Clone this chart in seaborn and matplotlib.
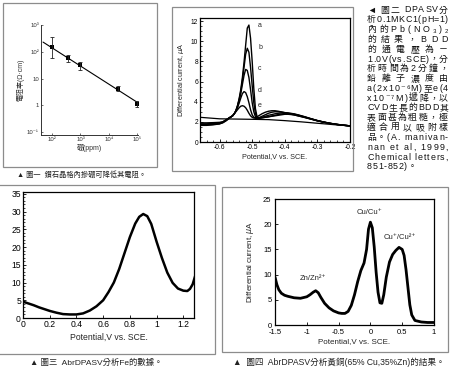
import matplotlib
matplotlib.use("Agg")
import matplotlib.pyplot as plt
import seaborn as sns
from matplotlib.patches import Rectangle
from matplotlib.transforms import IdentityTransform
from matplotlib.ticker import FixedLocator, MultipleLocator, NullLocator, FuncFormatter

# ---------------- data ----------------
# Fig.1: resistivity vs boron content (log-log)
boron_ppm = [100, 370, 1000, 21000, 100000]
resistivity = [154, 60, 33, 4.2, 1.1]
res_low = [60, 42, 21, 3.3, 0.84]
res_high = [355, 77, 42, 5.1, 1.4]
fit_ppm = [48, 100000]
fit_res = [230, 1.3]
fig1_xticks = [1e2, 1e3, 1e4, 1e5]
fig1_xlabels = ["10²", "10³", "10⁴", "10⁵"]
fig1_yticks = [1e-1, 1, 10, 1e2, 1e3]
fig1_ylabels = ["10⁻¹", "1", "10", "10²", "10³"]

# Fig.2: DPASV of Pb, curves a-e
pot2 = [-0.66, -0.64, -0.62, -0.60, -0.59, -0.58, -0.57, -0.56, -0.555, -0.55,
        -0.545, -0.54, -0.535, -0.53, -0.525, -0.52, -0.515, -0.51, -0.505, -0.50,
        -0.495, -0.49, -0.485, -0.48, -0.47, -0.46, -0.45, -0.44, -0.43, -0.42,
        -0.41, -0.40, -0.39, -0.38, -0.37, -0.36, -0.34, -0.32, -0.30, -0.28,
        -0.26, -0.24, -0.22, -0.20]
curve_a = [1.75, 1.75, 1.8, 1.85, 1.95, 2.15, 2.4, 2.6, 2.8, 3.1,
           3.6, 4.3, 5.2, 6.4, 7.9, 9.6, 11.3, 11.6, 10.3, 8.0,
           5.3, 3.3, 2.5, 2.35, 2.4, 2.45, 2.5, 2.55, 2.6, 2.65,
           2.7, 2.75, 2.75, 2.72, 2.68, 2.6, 2.45, 2.28, 2.1, 1.95,
           1.83, 1.73, 1.66, 1.6]
curve_b = [1.8, 1.8, 1.85, 1.9, 2.0, 2.2, 2.4, 2.6, 2.8, 3.1,
           3.6, 4.2, 5.0, 6.1, 7.4, 8.7, 9.3, 8.9, 7.4, 5.6,
           3.9, 2.8, 2.4, 2.35, 2.4, 2.45, 2.5, 2.58, 2.65, 2.72,
           2.78, 2.82, 2.83, 2.8, 2.75, 2.68, 2.5, 2.3, 2.12, 1.97,
           1.84, 1.74, 1.66, 1.6]
curve_c = [1.65, 1.65, 1.7, 1.8, 1.95, 2.15, 2.4, 2.6, 2.8, 3.1,
           3.5, 4.1, 4.8, 5.7, 6.6, 7.2, 7.1, 6.4, 5.2, 3.9,
           3.0, 2.5, 2.35, 2.35, 2.45, 2.55, 2.65, 2.72, 2.8, 2.85,
           2.88, 2.9, 2.88, 2.84, 2.78, 2.7, 2.52, 2.32, 2.13, 1.98,
           1.85, 1.75, 1.67, 1.6]
curve_d = [1.9, 1.9, 1.92, 1.95, 2.0, 2.2, 2.4, 2.6, 2.8, 3.05,
           3.4, 3.85, 4.35, 4.8, 5.0, 4.9, 4.5, 3.9, 3.2, 2.7,
           2.45, 2.35, 2.35, 2.4, 2.55, 2.7, 2.85, 2.95, 3.0, 3.0,
           2.97, 2.92, 2.86, 2.8, 2.73, 2.65, 2.48, 2.3, 2.12, 1.97,
           1.85, 1.75, 1.67, 1.6]
curve_e = [1.7, 1.7, 1.75, 1.8, 1.9, 2.1, 2.35, 2.6, 2.8, 3.0,
           3.2, 3.4, 3.55, 3.6, 3.55, 3.4, 3.15, 2.85, 2.6, 2.45,
           2.38, 2.4, 2.5, 2.6, 2.8, 2.95, 3.05, 3.1, 3.1, 3.05,
           2.98, 2.9, 2.82, 2.75, 2.68, 2.6, 2.44, 2.27, 2.1, 1.96,
           1.84, 1.74, 1.66, 1.6]
blank_pot = [-0.66, -0.60, -0.50, -0.45, -0.40, -0.35, -0.30, -0.25, -0.20]
blank_cur = [2.45, 2.3, 2.25, 2.22, 2.12, 2.0, 1.86, 1.72, 1.6]
curve_names = ["a", "b", "c", "d", "e"]
curve_label_y = [11.6, 9.4, 7.3, 5.1, 3.6]

# Fig.3: AbrDPASV of Fe
pot3 = [0, 0.04, 0.08, 0.12, 0.16, 0.2, 0.25, 0.3, 0.35, 0.4, 0.45, 0.5, 0.55, 0.6,
        0.64, 0.68, 0.72, 0.76, 0.8, 0.84, 0.87, 0.9, 0.93, 0.96, 1.0, 1.04, 1.08,
        1.12, 1.16, 1.2, 1.23, 1.25, 1.27, 1.29]
cur3 = [4.6, 4.1, 3.6, 3.0, 2.5, 2.0, 1.5, 1.1, 1.0, 1.0, 1.3, 2.1, 3.3, 5.0,
        7.3, 10.0, 13.8, 18.3, 22.8, 26.6, 28.5, 29.3, 28.7, 26.5, 21.5, 16.9, 12.8,
        9.9, 8.3, 7.7, 7.6, 8.2, 9.5, 12.0]

# Fig.4: AbrDPASV of brass
pot4 = [-1.5, -1.47, -1.44, -1.4, -1.35, -1.3, -1.2, -1.1, -1.0, -0.95, -0.9, -0.86,
        -0.82, -0.78, -0.72, -0.65, -0.58, -0.5, -0.45, -0.4, -0.35, -0.3, -0.25,
        -0.2, -0.15, -0.1, -0.06, -0.03, 0.0, 0.03, 0.06, 0.09, 0.12, 0.15, 0.18,
        0.21, 0.25, 0.3, 0.35, 0.4, 0.45, 0.5, 0.53, 0.56, 0.59, 0.62, 0.65, 0.7,
        0.8, 0.9, 1.0]
cur4 = [9.5, 8.0, 7.0, 6.3, 5.9, 5.7, 5.4, 5.3, 5.6, 6.0, 6.5, 6.8,
        6.4, 5.5, 4.3, 3.4, 2.8, 2.4, 2.3, 2.3, 2.7, 3.9, 6.0,
        8.6, 10.8, 12.3, 15.0, 19.0, 20.4, 19.3, 15.5, 10.5, 6.5, 4.4, 4.3,
        6.0, 9.5, 12.5, 14.0, 14.8, 15.4, 15.0, 13.8, 11.0, 7.5, 4.0, 2.0, 0.9,
        0.6, 0.5, 0.5]
peak_names = ["Zn/Zn²⁺", "Cu/Cu⁺", "Cu⁺/Cu²⁺"]
peak_pos = [(-0.9, 9.3), (-0.02, 22.3), (0.46, 17.4)]

caption1 = "▲ 圖一  鑽石晶格內摻硼可降低其電阻。"
caption3 = "▲ 圖三  AbrDPASV分析Fe的數據。"
caption4 = "▲  圖四  AbrDPASV分析黃銅(65% Cu,35%Zn)的結果。"
caption2_lines = [
    "◄ 圖二 DPASV分",
    "析0.1MKC1(pH=1)",
    "內的Pb(NO₃)₂",
    "的結果，BDD",
    "的通電壓為－",
    "1.0V(vs.SCE)，分",
    "析時間為2分鐘，",
    "鉛離子濃度由",
    "a(2x10⁻⁶M)至e(4",
    "x10⁻⁷M)遞降，以",
    "CVD生長的BDD其",
    "表面甚為粗糙，極",
    "適合用以吸附樣",
    "品。(A. manivan-",
    "nan et al, 1999,",
    "Chemical letters,",
    "851-852)。",
]
xlab = "Potential,V vs. SCE."
ylab = "Differential current, $\\mu$A"

# ---------------- style ----------------
sns.set_theme(style="ticks")
FAM = ['Liberation Sans', 'Noto Sans CJK TC', 'DejaVu Sans']
plt.rcParams['font.family'] = FAM
plt.rcParams['axes.unicode_minus'] = False
plt.rcParams['mathtext.fontset'] = 'dejavusans'

W, H = 450, 370
fig = plt.figure(figsize=(4.5, 3.7), dpi=100)
fig.patch.set_facecolor('white')


def ax_px(l, t, r, b):
    return fig.add_axes([l / W, 1 - b / H, (r - l) / W, (b - t) / H])


def frame(l, t, r, b):
    fig.add_artist(Rectangle((l / W, 1 - b / H), (r - l) / W, (b - t) / H,
                             transform=fig.transFigure, fill=False,
                             ec='#8c8c8c', lw=0.9))


def style_box(ax, fs):
    for s in ax.spines.values():
        s.set_color('black')
        s.set_linewidth(0.9)
    ax.tick_params(which='both', direction='in', colors='black', labelsize=fs,
                   pad=1.5, top=False, right=False)
    ax.tick_params(which='major', length=2.5, width=0.6)
    ax.tick_params(which='minor', length=1.5, width=0.5)


gfmt = FuncFormatter(lambda v, p: f"{v:g}")

# frames
frame(3, 3, 157, 167)
frame(172, 7, 353, 171)
frame(-2, 185, 215, 354)
frame(222, 187, 448, 352)

# ---------- panel 1 ----------
ax1 = ax_px(41, 25, 138, 135)
ax1.set_xscale('log')
ax1.set_yscale('log')
sns.lineplot(x=fit_ppm, y=fit_res, ax=ax1, color='black', lw=0.8)
yerr = [[r - lo for r, lo in zip(resistivity, res_low)],
        [hi - r for r, hi in zip(resistivity, res_high)]]
ax1.errorbar(boron_ppm, resistivity, yerr=yerr, fmt='none', ecolor='#222',
             elinewidth=0.6, capsize=1.3, capthick=0.6)
sns.scatterplot(x=boron_ppm, y=resistivity, ax=ax1, color='black', s=5,
                marker='s', linewidth=0)
ax1.set_xlim(10 ** 1.61, 10 ** 5.03)
ax1.set_ylim(10 ** -1.11, 10 ** 3)
ax1.spines['top'].set_visible(False)
ax1.spines['right'].set_visible(False)
for s in ['left', 'bottom']:
    ax1.spines[s].set_color('#333')
    ax1.spines[s].set_linewidth(0.7)
ax1.xaxis.set_major_locator(FixedLocator(fig1_xticks))
ax1.set_xticklabels(fig1_xlabels)
ax1.yaxis.set_major_locator(FixedLocator(fig1_yticks))
ax1.set_yticklabels(fig1_ylabels)
ax1.xaxis.set_minor_locator(NullLocator())
ax1.yaxis.set_minor_locator(NullLocator())
ax1.tick_params(direction='in', length=1.5, width=0.5, labelsize=4.3, pad=1.5,
                colors='#333')
ax1.set_xlabel("硼(ppm)", fontsize=5, labelpad=1.5, color='#333')
ax1.set_ylabel("電阻率(Ω·cm)", fontsize=5, labelpad=2, color='#333')

# ---------- panel 2 ----------
ax2 = ax_px(200, 18, 350, 142)
for cur in [curve_a, curve_b, curve_c, curve_d, curve_e]:
    sns.lineplot(x=pot2, y=cur, ax=ax2, color='black', lw=1.0,
                 estimator=None, sort=False)
sns.lineplot(x=blank_pot, y=blank_cur, ax=ax2, color='black', lw=0.9,
             estimator=None, sort=False)
for nm, yy in zip(curve_names, curve_label_y):
    ax2.text(-0.482, yy, nm, fontsize=5, va='center', ha='left')
ax2.set_xlim(-0.66, -0.2)
ax2.set_ylim(0, 12.3)
ax2.xaxis.set_major_locator(FixedLocator([-0.6, -0.5, -0.4, -0.3, -0.2]))
ax2.xaxis.set_minor_locator(MultipleLocator(0.02))
ax2.yaxis.set_major_locator(MultipleLocator(2))
ax2.yaxis.set_minor_locator(MultipleLocator(0.5))
ax2.xaxis.set_major_formatter(gfmt)
ax2.yaxis.set_major_formatter(gfmt)
style_box(ax2, 4.8)
ax2.set_xlabel(xlab, fontsize=5.2, labelpad=1.5)
ax2.set_ylabel(ylab, fontsize=5.2, labelpad=3)

# ---------- panel 3 ----------
ax3 = ax_px(23, 192, 194, 318)
sns.lineplot(x=pot3, y=cur3, ax=ax3, color='black', lw=1.8,
             estimator=None, sort=False)
ax3.set_xlim(0, 1.28)
ax3.set_ylim(0, 35.5)
ax3.xaxis.set_major_locator(MultipleLocator(0.2))
ax3.yaxis.set_major_locator(MultipleLocator(5))
ax3.yaxis.set_minor_locator(MultipleLocator(1))
ax3.xaxis.set_major_formatter(gfmt)
ax3.yaxis.set_major_formatter(gfmt)
style_box(ax3, 6.2)
ax3.set_xlabel(xlab, fontsize=6.2, labelpad=3)

# ---------- panel 4 ----------
ax4 = ax_px(275, 199, 434, 325)
sns.lineplot(x=pot4, y=cur4, ax=ax4, color='black', lw=2.0,
             estimator=None, sort=False)
for nm, (px, py) in zip(peak_names, peak_pos):
    ax4.text(px, py, nm, fontsize=5.5, ha='center', va='center')
ax4.set_xlim(-1.5, 1)
ax4.set_ylim(0, 25)
ax4.xaxis.set_major_locator(MultipleLocator(0.5))
ax4.yaxis.set_major_locator(MultipleLocator(5))
ax4.xaxis.set_major_formatter(gfmt)
ax4.yaxis.set_major_formatter(gfmt)
style_box(ax4, 5.5)
ax4.tick_params(axis='x', pad=2.8)
ax4.tick_params(axis='y', pad=2.5)
ax4.set_xlabel(xlab, fontsize=5.8, labelpad=1.5)
ax4.set_ylabel(ylab, fontsize=5.8, labelpad=5)

# ---------- captions ----------
fig.text(17 / W, 1 - 175 / H, caption1, fontsize=5.2, va='center', color='#222')
fig.text(30 / W, 1 - 363 / H, caption3, fontsize=6.0, va='center', color='#222')
fig.text(233 / W, 1 - 362 / H, caption4, fontsize=6.2, va='center', color='#222')

# justified column text for Fig.2
renderer = fig.canvas.get_renderer()
X0, X1 = 367, 448
FS2 = 6.4
n_lines = len(caption2_lines)
for i, line in enumerate(caption2_lines):
    yd = H - (10 + i * 9.8)
    pieces = []
    for ch in line:
        t = fig.text(0, 0, ch, fontsize=FS2, transform=IdentityTransform(),
                     va='center', ha='left', color='#111')
        w = t.get_window_extent(renderer).width
        if ch == ' ':
            w = FS2 * 100 / 72 * 0.28
        pieces.append((t, w))
    total = sum(w for _, w in pieces)
    if i < n_lines - 1 and len(pieces) > 1:
        gap = max(0.0, (X1 - X0 - total) / (len(pieces) - 1))
    else:
        gap = 0.6
    x = X0
    for t, w in pieces:
        t.set_position((x, yd))
        x += w + gap

fig.savefig("out.png", dpi=100, facecolor='white')
